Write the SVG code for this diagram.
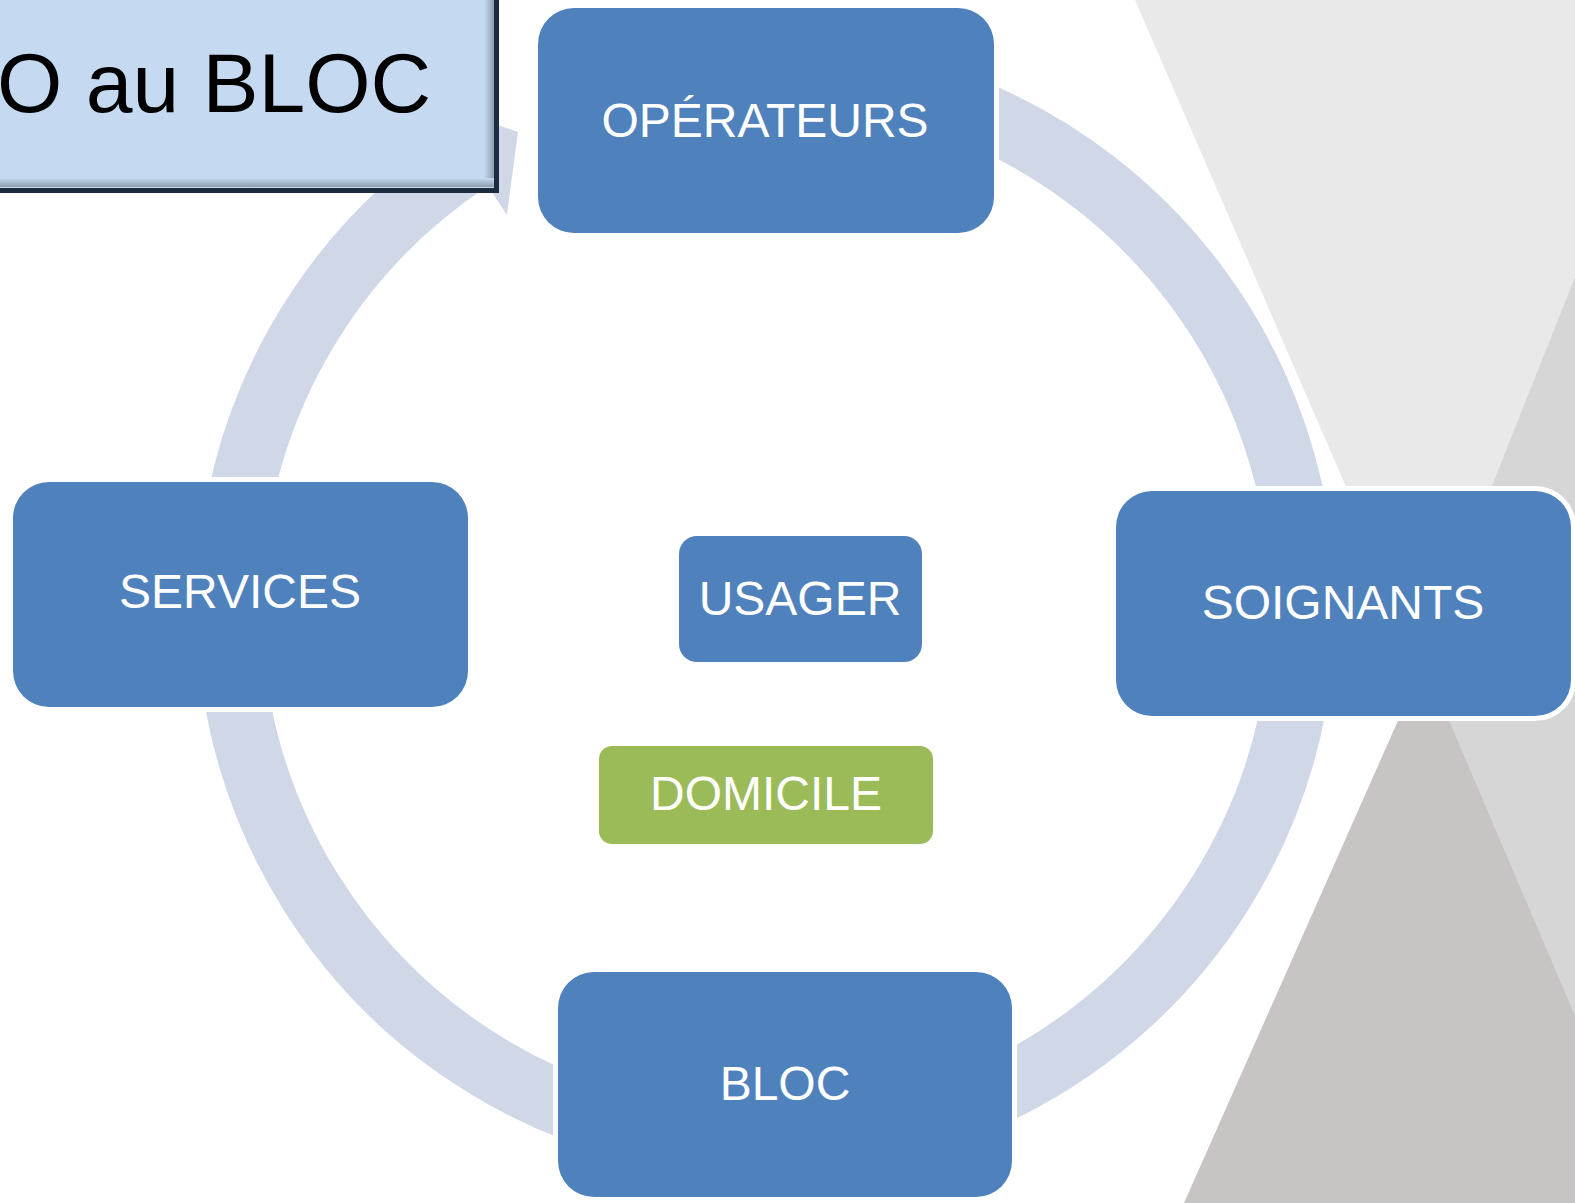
<svg xmlns="http://www.w3.org/2000/svg" width="1575" height="1203" viewBox="0 0 1575 1203">
  <style>
    .node { fill: #4F81BD; stroke: #FFFFFF; stroke-width: 10; paint-order: stroke; }
    .inner { fill: #4F81BD; }
    .green { fill: #9BBB59; }
    .lbl { font-family: "Liberation Sans", Arial, sans-serif; font-size: 48px; fill: #FFFFFF; text-anchor: middle; }
    .title { font-family: "Liberation Sans", Arial, sans-serif; font-size: 84px; fill: #000000; }
    .ring { fill: none; stroke: #D0D8E8; stroke-width: 65; stroke-linecap: butt; }
  </style>
  <defs>
    <linearGradient id="bevR" x1="0" y1="0" x2="1" y2="0">
      <stop offset="0" stop-color="#C5DAF1"/>
      <stop offset="1" stop-color="#8E9DB0"/>
    </linearGradient>
    <linearGradient id="bevB" x1="0" y1="0" x2="0" y2="1">
      <stop offset="0" stop-color="#C5DAF1"/>
      <stop offset="1" stop-color="#8E9DB0"/>
    </linearGradient>
  </defs>
  <rect x="0" y="0" width="1575" height="1203" fill="#FFFFFF"/>
  <g id="background">
    <polygon points="1575,0 1575,1203 1422,662" fill="#D7D6D6"/>
    <polygon points="1135,0 1685,0 1422,662" fill="#EAE9EA"/>
    <polygon points="1424,662 1184,1203 1655,1203" fill="#C9C4C4"/>
  </g>
  <g id="connectors">
    <path class="ring" d="M 582.3 102.4 A 537 537 0 1 1 470.0 158.9"/>
    <polygon points="433.1,103 518,132 506.9,214.8" fill="#D0D8E8"/>
  </g>
  <g id="node-operateurs">
    <rect class="node" x="538" y="8" width="456" height="225" rx="36" ry="36"/>
    <text class="lbl" x="765" y="137">OPÉRATEURS</text>
  </g>
  <g id="node-soignants">
    <rect class="node" x="1116" y="491" width="455" height="225" rx="36" ry="36"/>
    <text class="lbl" x="1343" y="619">SOIGNANTS</text>
  </g>
  <g id="node-bloc">
    <rect class="node" x="558" y="972" width="454" height="225" rx="36" ry="36"/>
    <text class="lbl" x="785" y="1100">BLOC</text>
  </g>
  <g id="node-services">
    <rect class="node" x="13" y="482" width="455" height="225" rx="36" ry="36"/>
    <text class="lbl" x="240" y="608">SERVICES</text>
  </g>
  <g id="node-usager">
    <rect class="inner" x="679" y="536" width="243" height="126" rx="18" ry="18"/>
    <text class="lbl" x="800" y="615">USAGER</text>
  </g>
  <g id="node-domicile">
    <rect class="green" x="599" y="746" width="334" height="98" rx="13" ry="13"/>
    <text class="lbl" x="766" y="810">DOMICILE</text>
  </g>
  <g id="title">
    <rect x="-20" y="-20" width="516.5" height="210.5" fill="#C5DAF1"/>
    <rect x="484" y="-20" width="10" height="206" fill="url(#bevR)"/>
    <rect x="-20" y="178" width="514" height="9" fill="url(#bevB)"/>
    <rect x="-20" y="-20" width="516.5" height="210.5" fill="none" stroke="#1C2B40" stroke-width="5"/>
    <text class="title" x="-3" y="112">O au BLOC</text>
  </g>
</svg>
